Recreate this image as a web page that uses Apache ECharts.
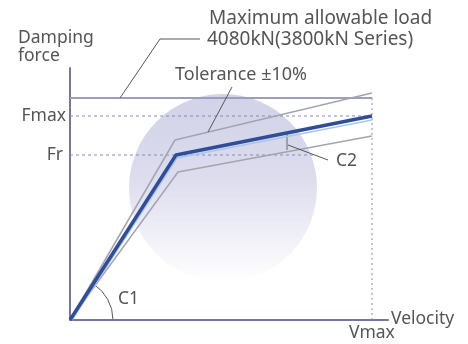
<!DOCTYPE html>
<html>
<head>
<meta charset="utf-8">
<script src="https://cdn.jsdelivr.net/npm/echarts@6/dist/echarts.min.js"></script>
<style>
  html, body { margin: 0; padding: 0; background: #fff; }
  #chart { width: 468px; height: 344px; }
</style>
</head>
<body>
<div id="chart"></div>
<script>
// values (units: velocity / force, origin = 0)
const mainCurve = [[0, 0], [106, 165], [302, 204]]
const upperTolerance = [[0, 0], [105, 180], [302, 227]]
const lowerTolerance = [[0, 0], [108, 148], [302, 184]]
const highlightCurve = [[2, 0], [107, 162], [302, 200]]
const maxLoad = 222
const fmax = 204
const fr = 165
const vmax = 302
const frEnd = 245
const circleCenter = [153, 132]
const c2Bracket = [[217, 186], [217, 170]]
const c2Leader = [[218, 175], [258, 160]]
const tolLeader = [[138, 188], [162, 233]]
const maxLeader = [[50, 222], [90, 281], [130, 281]]

const textColor = '#555'
const axisColor = '#7474a6'
const font = '"Noto Sans", sans-serif'

const chart = echarts.init(document.getElementById('chart'))

const lineSeries = (data, color, width, type, z) => ({
  type: 'line',
  data,
  symbol: 'none',
  silent: true,
  clip: false,
  z: z || 2,
  lineStyle: { color, width, type: type || 'solid' }
})

chart.setOption({
  animation: false,
  grid: { left: 70, top: 68, width: 318, height: 252 },
  xAxis: {
    type: 'value', min: 0, max: 318,
    axisLine: { show: true, lineStyle: { color: axisColor, width: 2 } },
    axisTick: { show: false }, axisLabel: { show: false }, splitLine: { show: false }
  },
  yAxis: {
    type: 'value', min: 0, max: 252,
    axisLine: { show: true, lineStyle: { color: axisColor, width: 2 } },
    axisTick: { show: false }, axisLabel: { show: false }, splitLine: { show: false }
  },
  series: [
    {
      type: 'scatter',
      data: [circleCenter],
      symbol: 'circle',
      symbolSize: 188,
      silent: true,
      z: 1,
      itemStyle: {
        color: {
          type: 'linear', x: 0, y: 0, x2: 0, y2: 1,
          colorStops: [
            { offset: 0, color: '#c6c6e2' },
            { offset: 0.45, color: '#d4d4ea' },
            { offset: 1, color: '#ffffff' }
          ]
        }
      }
    },
    lineSeries([[0, maxLoad], [vmax, maxLoad]], '#9e9ebc', 2),
    lineSeries([[0, fmax], [vmax, fmax]], '#8a8abc', 1, [3, 3]),
    lineSeries([[0, fr], [frEnd, fr]], '#8a8abc', 1, [3, 3]),
    lineSeries([[vmax, 0], [vmax, maxLoad + 3]], '#8a8abc', 1, [2, 3]),
    lineSeries(upperTolerance, '#a4a4ae', 1.5),
    lineSeries(lowerTolerance, '#a4a4ae', 1.5),
    lineSeries(highlightCurve, '#a9c6ea', 1.5, 'solid', 3),
    lineSeries(mainCurve, '#2f4d98', 3.5, 'solid', 4),
    lineSeries(c2Bracket, '#666', 1),
    lineSeries(c2Leader, '#555', 1),
    lineSeries(tolLeader, '#555', 1),
    lineSeries(maxLeader, '#555', 1)
  ]
})

// C1 angle arc at the origin
const origin = chart.convertToPixel({ gridIndex: 0 }, [0, 0])
const angle = Math.atan2(mainCurve[1][1], mainCurve[1][0])

const txt = (text, x, y, align, size) => ({
  type: 'text',
  x, y,
  style: {
    text, x: 0, y: 0,
    fill: textColor,
    font: (size || 17.5) + 'px ' + font,
    textAlign: align || 'left',
    textVerticalAlign: 'middle'
  }
})

chart.setOption({
  graphic: [
    {
      type: 'arc',
      shape: { cx: origin[0], cy: origin[1], r: 43, startAngle: -angle, endAngle: 0 },
      style: { stroke: '#555', lineWidth: 1, fill: null }
    },
    txt('Maximum allowable load', 209, 19, 'left', 19),
    txt('4080kN(3800kN Series)', 207, 40, 'left', 19),
    txt('Damping', 18, 38),
    txt('force', 18, 56),
    txt('Tolerance ±10%', 175, 75, 'left', 18),
    txt('Fmax', 66, 116, 'right'),
    txt('Fr', 63, 155, 'right'),
    txt('C2', 336, 161),
    txt('C1', 118, 299),
    txt('Velocity', 391, 319),
    txt('Vmax', 372, 333, 'center')
  ]
})
</script>
</body>
</html>
